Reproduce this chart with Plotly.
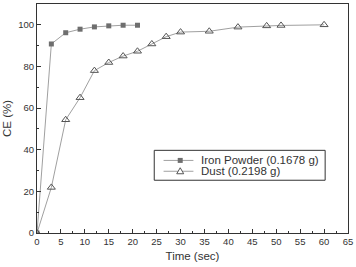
import plotly.graph_objects as go

iron_t = [0, 3, 6, 9, 12, 15, 18, 21]
iron_ce = [0, 90.8, 96.2, 97.9, 99.0, 99.5, 99.8, 99.8]
dust_t = [0, 3, 6, 9, 12, 15, 18, 21, 24, 27, 30, 36, 42, 48, 51, 60]
dust_ce = [0, 21.9, 54.4, 65.0, 78.0, 81.9, 85.0, 87.3, 90.8, 94.3, 96.5, 96.9, 98.9, 99.5, 99.7, 100]
legend_labels = ["Iron Powder (0.1678 g)", "Dust (0.2198 g)"]

LINE_C = "#a0a0a0"
SQ_C = "#6e6e6e"
TRI_C = "#555555"
AX_C = "#333333"
FONT = "Liberation Sans, Arial"

fig = go.Figure()
fig.add_trace(go.Scatter(
    x=iron_t, y=iron_ce, mode="lines+markers", name=legend_labels[0], showlegend=False,
    line=dict(color=LINE_C, width=1),
    marker=dict(symbol="square", size=5, color=SQ_C, line=dict(width=0)),
))
fig.add_trace(go.Scatter(
    x=dust_t, y=dust_ce, mode="lines+markers", name=legend_labels[1], showlegend=False,
    line=dict(color=LINE_C, width=1),
    marker=dict(symbol="triangle-up-open", size=7, color=TRI_C, line=dict(width=1)),
))

axis_common = dict(
    showgrid=False, zeroline=False, showline=True, linecolor=AX_C, linewidth=1,
    mirror=True, ticks="inside", ticklen=4, tickcolor=AX_C,
    tickfont=dict(family=FONT, size=9.5, color=AX_C),
)
fig.update_xaxes(range=[0, 65], dtick=5, tick0=0,
                 minor=dict(ticks="inside", ticklen=2, dtick=2.5, tickcolor=AX_C),
                 title=dict(text="Time (sec)", font=dict(family=FONT, size=11.5, color=AX_C), standoff=5),
                 **axis_common)
fig.update_yaxes(range=[0, 110], dtick=20, tick0=0,
                 minor=dict(ticks="inside", ticklen=2, dtick=10, tickcolor=AX_C),
                 title=dict(text="CE (%)", font=dict(family=FONT, size=11.5, color=AX_C), standoff=4),
                 **axis_common)

# manual legend (box, sample lines, glyphs, labels) in plot-fraction coordinates
shapes = [dict(type="rect", xref="paper", yref="paper", x0=0.377, x1=0.9265, y0=0.2304, y1=0.361,
               line=dict(color=AX_C, width=1), fillcolor="white", layer="above")]
rows_y = [0.317, 0.2696]
for ry in rows_y:
    shapes.append(dict(type="line", xref="paper", yref="paper", x0=0.407, x1=0.503, y0=ry, y1=ry,
                       line=dict(color=LINE_C, width=1), layer="above"))
mx = 0.4605
shapes.append(dict(type="rect", xref="paper", yref="paper", xsizemode="pixel", ysizemode="pixel",
                   xanchor=mx, yanchor=rows_y[0], x0=-2.5, x1=2.5, y0=-2.5, y1=2.5,
                   line=dict(width=0), fillcolor=SQ_C, layer="above"))
shapes.append(dict(type="path", xref="paper", yref="paper", xsizemode="pixel", ysizemode="pixel",
                   xanchor=mx, yanchor=rows_y[1], path="M -3.5,-2.5 L 3.5,-2.5 L 0,3.5 Z",
                   line=dict(color=TRI_C, width=1), fillcolor="white", layer="above"))
annotations = []
for ry, lab in zip(rows_y, legend_labels):
    annotations.append(dict(xref="paper", yref="paper", x=0.521, y=ry, text=lab, showarrow=False,
                            xanchor="left", yanchor="middle",
                            font=dict(family=FONT, size=11.5, color=AX_C)))

fig.update_layout(
    width=356, height=267,
    margin=dict(l=37, r=6, t=3, b=34),
    paper_bgcolor="white", plot_bgcolor="white",
    showlegend=False, shapes=shapes, annotations=annotations,
)
fig.write_html("out.html")
